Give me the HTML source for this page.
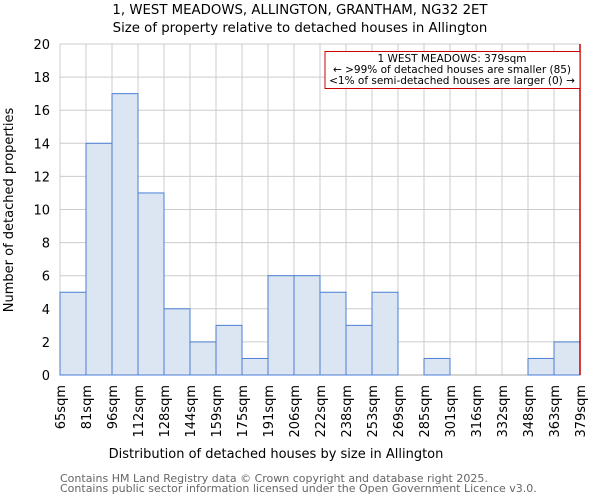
<!DOCTYPE html>
<html><head><meta charset="utf-8"><style>body{margin:0;background:#fff}svg{display:block;font-family:"DejaVu Sans","Liberation Sans",sans-serif}</style></head>
<body>
<svg id="c" width="600" height="500">
<text x="300" y="14" text-anchor="middle" font-size="13.3">1, WEST MEADOWS, ALLINGTON, GRANTHAM, NG32 2ET</text>
<text x="300" y="32" text-anchor="middle" font-size="13.3">Size of property relative to detached houses in Allington</text>
<g id="grid"></g><g id="bars"></g><g id="ticks"></g>
<text x="276" y="458" text-anchor="middle" font-size="13">Distribution of detached houses by size in Allington</text>
<text transform="translate(13,210) rotate(-90)" text-anchor="middle" font-size="13">Number of detached properties</text>
<text x="60" y="482" font-size="11" fill="#666">Contains HM Land Registry data © Crown copyright and database right 2025.</text>
<text x="60" y="492" font-size="11" fill="#666">Contains public sector information licensed under the Open Government Licence v3.0.</text>
<line x1="580" y1="44" x2="580" y2="375" stroke="#c00" stroke-width="1.5"/>
<rect x="325" y="51.5" width="255" height="37" fill="#fff" stroke="#c00"/>
<text x="452" y="62" text-anchor="middle" font-size="10.5">1 WEST MEADOWS: 379sqm</text>
<text x="452" y="73" text-anchor="middle" font-size="10.5">← &gt;99% of detached houses are smaller (85)</text>
<text x="452" y="84" text-anchor="middle" font-size="10.5">&lt;1% of semi-detached houses are larger (0) →</text>
</svg>
<script>
const categories=["65sqm","81sqm","96sqm","112sqm","128sqm","144sqm","159sqm","175sqm","191sqm","206sqm","222sqm","238sqm","253sqm","269sqm","285sqm","301sqm","316sqm","332sqm","348sqm","363sqm","379sqm"];
const counts=[5,14,17,11,4,2,3,1,6,6,5,3,5,0,1,0,0,0,1,2];
const yTicks=[0,2,4,6,8,10,12,14,16,18,20];
const NS="http://www.w3.org/2000/svg";
const x0=60,x1=580,y0=375,y1=44,yMax=20;
const bw=(x1-x0)/counts.length;
const xs=i=>x0+i*bw;
const ys=v=>y0-(v/yMax)*(y0-y1);
function mk(t,a,p){const e=document.createElementNS(NS,t);for(const k in a)e.setAttribute(k,a[k]);p.appendChild(e);return e;}
const g=document.getElementById('grid'),b=document.getElementById('bars'),tk=document.getElementById('ticks');
yTicks.forEach(v=>{const l=mk('line',{x1:x0,x2:x1,y1:ys(v),y2:ys(v),stroke:'#ccc'},g);


const t=mk('text',{x:x0-10,y:ys(v)+5,'text-anchor':'end','font-size':13},tk);t.textContent=v;

});
categories.forEach((c,i)=>{const l=mk('line',{x1:xs(i),x2:xs(i),y1:y1,y2:y0,stroke:'#ccc'},g);


const t=mk('text',{transform:`translate(${xs(i)+5},${y0+10}) rotate(-90)`,'text-anchor':'end','font-size':13},tk);t.textContent=c;

});
counts.forEach((v,i)=>{const r=mk('rect',{x:xs(i),y:ys(v),width:bw,height:y0-ys(v),fill:'#dce6f2',stroke:'#4a7fd4','stroke-width':1},b);

});
const ax=mk('line',{x1:x0,x2:x1,y1:y0,y2:y0,stroke:'#aaa'},g);


</script>
</body></html>
